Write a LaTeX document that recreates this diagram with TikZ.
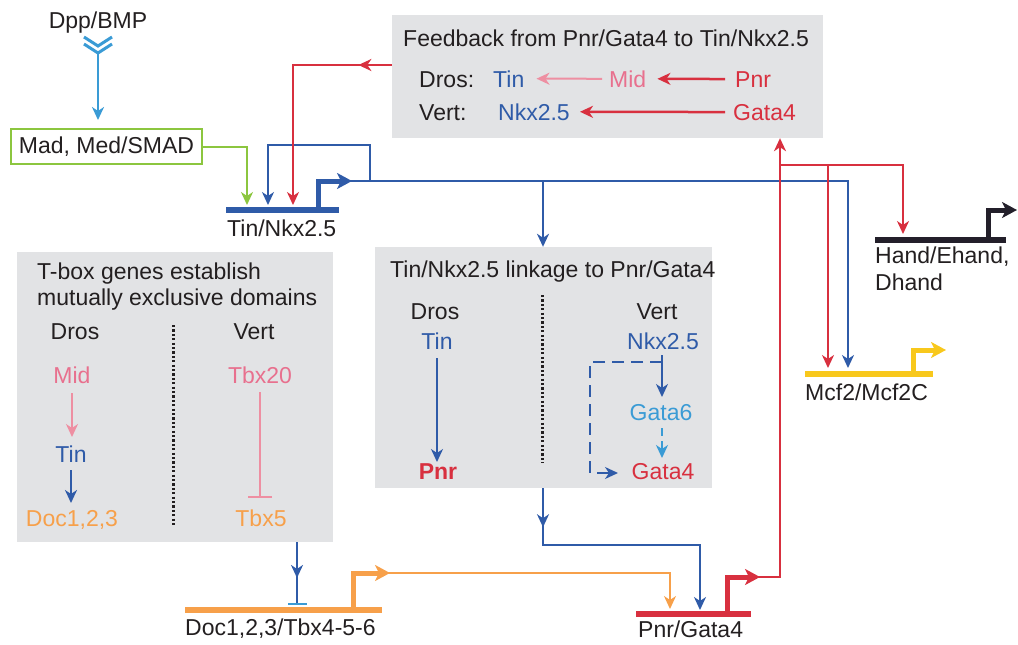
\documentclass[tikz,border=0pt]{standalone}
\usepackage{fontspec}
\setmainfont{Liberation Sans}
\usetikzlibrary{arrows.meta,decorations.markings}
\definecolor{dblue}{HTML}{2F5BA8}
\definecolor{lblue}{HTML}{3A9BD5}
\definecolor{cred}{HTML}{D8303F}
\definecolor{cpink}{HTML}{EE8FA2}
\definecolor{tpink}{HTML}{E8708E}
\definecolor{corange}{HTML}{F7A04A}
\definecolor{cgreen}{HTML}{8CC63F}
\definecolor{cyellow}{HTML}{F8C81C}
\definecolor{cgray}{HTML}{E2E3E5}
\definecolor{cblack}{HTML}{231F2A}
\definecolor{ctext}{HTML}{231F20}
\begin{document}
\begin{tikzpicture}[x=1pt,y=-1pt,
  lbl/.style={font=\fontsize{23}{27}\selectfont, inner sep=0pt, text=ctext},
  graybox/.style={fill=cgray, draw=none, inner sep=0pt},
  conn/.style={line width=2pt},
  arr/.style={-{Stealth[length=13pt,width=12pt,inset=4pt]}},
  genebar/.style={line width=6pt},
  promo/.style={line width=5pt, -{Stealth[length=15pt,width=16pt,inset=4pt]}},
  midarrow/.style={postaction={decorate}, decoration={markings, mark=at position #1 with {\arrow{Stealth[length=13pt,width=12pt,inset=4pt]}}}},
  dotline/.style={line width=3pt, ctext, dash pattern=on 2.2pt off 2.2pt},
]
\useasboundingbox (0,0) rectangle (1018,645);

% ---------- gray boxes ----------
\node[graybox, minimum width=431pt, minimum height=123pt] (fb) at (607.5,76.5) {};
\node[graybox, minimum width=316pt, minimum height=290pt] (tb) at (175,397) {};
\node[graybox, minimum width=337pt, minimum height=241pt] (lk) at (543.5,367.5) {};

% ---------- Dpp / Mad ----------
\node[lbl, anchor=base] (dpp) at (98,28) {Dpp/BMP};
\draw[lblue, line width=3pt] (84,37) -- (98,46) -- (112,37);
\draw[lblue, line width=3pt] (84,44) -- (98,53) -- (112,44);
\coordinate (chev) at (98,53);
\node[lbl, draw=cgreen, line width=2.5pt, minimum width=191pt, minimum height=35pt] (mad) at (106.5,146.5) {Mad, Med/SMAD};
\draw[lblue, line width=2.5pt, arr] (chev) -- (chev |- 0,120);

% ---------- Tin/Nkx2.5 gene ----------
\coordinate (tinL) at (226,210);
\coordinate (tinR) at (339,210);
\draw[dblue, genebar] (tinL) -- (tinR);
\node[lbl, anchor=base west] (tinlab) at (227,236) {Tin/Nkx2.5};
\draw[cgreen, conn, arr] (mad.east) -| (247,205);
\draw[dblue, conn, arr] (370,181) |- (268,145) -- (268,205);
\draw[cred, conn, arr, midarrow=0.14] (fb.west |- 0,65) -- (293,65) -- (293,205);
\draw[dblue, conn, arr] (345,181) -- (848,181) -- (848,368);
\draw[dblue, promo] (318,210) -- (318,181) -- (352,181);
\draw[dblue, conn, arr] (543,181) -- (lk.north -| 543,0);

% ---------- feedback box content ----------
\node[lbl, anchor=base west] (fbt) at (403,46) {Feedback from Pnr/Gata4 to Tin/Nkx2.5};
\node[lbl, anchor=base west] (fbd) at (419,87) {Dros:};
\node[lbl, anchor=base west, text=dblue] (fbtin) at (493,87) {Tin};
\node[lbl, anchor=base west, text=tpink] (fbmid) at (609,87) {Mid};
\node[lbl, anchor=base west, text=cred] (fbpnr) at (735,87) {Pnr};
\node[lbl, anchor=base west] (fbv) at (419,120) {Vert:};
\node[lbl, anchor=base west, text=dblue] (fbnkx) at (498,120) {Nkx2.5};
\node[lbl, anchor=base west, text=cred] (fbgata) at (733,120) {Gata4};
\draw[cpink, conn, arr, shorten <=7pt, shorten >=12pt] (fbmid.west) -- (fbtin.east);
\draw[cred, line width=2.5pt, arr, shorten <=10pt, shorten >=11pt] (fbpnr.west) -- (fbmid.east);
\draw[cred, line width=2.5pt, arr, shorten <=8pt, shorten >=10pt] (fbgata.west) -- (fbnkx.east);

% ---------- T-box box ----------
\node[lbl, anchor=base west] (tbt1) at (37,279) {T-box genes establish};
\node[lbl, anchor=base west] (tbt2) at (37,305) {mutually exclusive domains};
\node[lbl, anchor=base] (tbd) at (75,339) {Dros};
\node[lbl, anchor=base] (tbv) at (254,339) {Vert};
\node[lbl, anchor=base, text=tpink] (tbmid) at (72,383) {Mid};
\node[lbl, anchor=base, text=dblue] (tbtin) at (71,462) {Tin};
\node[lbl, anchor=base, text=corange] (tbdoc) at (72,526) {Doc1,2,3};
\node[lbl, anchor=base, text=tpink] (tbx20) at (260,383) {Tbx20};
\node[lbl, anchor=base, text=corange] (tbx5) at (261,526) {Tbx5};
\draw[dotline] (173,325) -- (173,527);
\draw[cpink, conn, arr] (tbmid.south |- 0,393) -- (tbmid.south |- 0,437);
\draw[dblue, line width=2.5pt, arr] (tbtin.south |- 0,470) -- (tbtin.south |- 0,503);
\draw[cpink, conn, -{Bar[width=24pt]}] (260,392) -- (260,498);

% ---------- linkage box ----------
\node[lbl, anchor=base west] (lkt) at (390,277) {Tin/Nkx2.5 linkage to Pnr/Gata4};
\node[lbl, anchor=base] (lkd) at (435,319) {Dros};
\node[lbl, anchor=base] (lkv) at (657,319) {Vert};
\node[lbl, anchor=base, text=dblue] (lktin) at (437,349) {Tin};
\node[lbl, anchor=base, text=dblue] (lknkx) at (663,349) {Nkx2.5};
\node[lbl, anchor=base, text=lblue] (lkg6) at (661,420) {Gata6};
\node[lbl, anchor=base, text=cred, font=\fontsize{23}{27}\selectfont\bfseries] (lkpnr) at (438,479) {Pnr};
\node[lbl, anchor=base, text=cred] (lkg4) at (663,479) {Gata4};
\draw[dotline] (542,295) -- (542,463);
\draw[dblue, conn, arr] (437,358) -- (437,462);
\draw[dblue, conn, arr] (662,355) -- (662,397);
\draw[lblue, conn, arr, dash pattern=on 8pt off 5pt] (662,428) -- (662,458);
\draw[dblue, conn, arr, dash pattern=on 12pt off 7pt] (662,362) -- (590,362) -- (590,473) -- (618,473);

% ---------- Hand ----------
\draw[cblack, genebar] (875,240) -- (1006,240);
\draw[cblack, promo] (988,240) -- (988,210) -- (1017,210);
\node[lbl, anchor=base west] (hand1) at (875,263) {Hand/Ehand,};
\node[lbl, anchor=base west] (hand2) at (875,290) {Dhand};

% ---------- Mcf2 ----------
\draw[cyellow, genebar] (805,374) -- (933,374);
\draw[cyellow, promo] (913,374) -- (913,350) -- (946,350);
\node[lbl, anchor=base west] (mcf) at (805,400) {Mcf2/Mcf2C};

% ---------- Doc gene ----------
\draw[corange, genebar] (185,610) -- (382,610);
\node[lbl, anchor=base west] (doclab) at (185,635) {Doc1,2,3/Tbx4-5-6};
\draw[corange, line width=1.8pt, arr] (385,573) -- (670,573) -- (670,609);
\draw[corange, promo] (353,610) -- (353,573) -- (390,573);
\draw[dblue, conn, midarrow=0.58] (297,542) -- (297,604);
\draw[lblue, line width=2.5pt] (288,604) -- (307,604);

% ---------- Pnr/Gata4 gene ----------
\draw[dblue, conn, arr, midarrow=0.14] (lk.south -| 543,0) -- (543,545) -- (700,545) -- (700,610);
\draw[cred, genebar] (636,614) -- (751,614);
\node[lbl, anchor=base west] (pnrlab) at (638,637) {Pnr/Gata4};
\draw[cred, conn, arr] (755,577) -- (780,577) -- (fb.south -| 780,0);
\draw[cred, promo] (727,614) -- (727,577) -- (760,577);
\draw[cred, conn, arr] (780,165) -- (903,165) -- (903,234);
\draw[cred, conn, arr] (828,165) -- (828,368);
\end{tikzpicture}
\end{document}
